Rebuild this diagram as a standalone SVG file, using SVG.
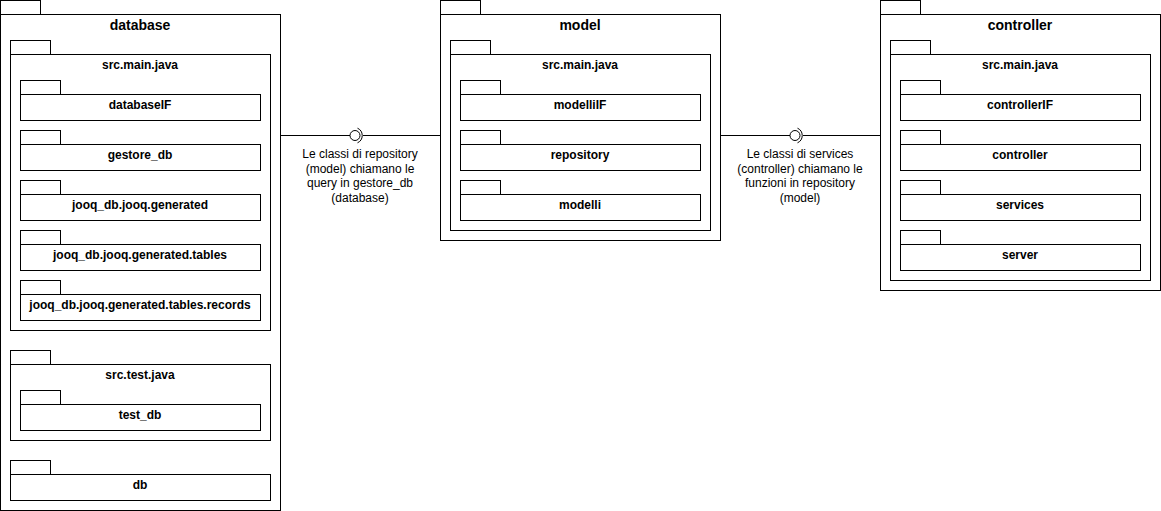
<svg xmlns="http://www.w3.org/2000/svg" width="1161" height="511" viewBox="0 0 1161 511">
<style>
.pk{fill:#fff;stroke:#000;stroke-width:1}
.t{font-family:"Liberation Sans",Arial,sans-serif;font-size:12px;font-weight:bold;text-anchor:middle;fill:#000}
.tt{font-family:"Liberation Sans",Arial,sans-serif;font-size:14px;font-weight:bold;text-anchor:middle;fill:#000}
.lb{font-family:"Liberation Sans",Arial,sans-serif;font-size:12px;text-anchor:middle;fill:#000}
.ln{fill:none;stroke:#000;stroke-width:1}
</style>
<rect width="1161" height="511" fill="#fff"/>

<g id="database">
<rect class="pk" x="0.5" y="0.5" width="40" height="14"/>
<rect class="pk" x="0.5" y="14.5" width="280" height="496"/>
<text class="tt" x="140" y="30">database</text>
<g id="db-src-main">
<rect class="pk" x="10.5" y="40.5" width="40" height="14"/>
<rect class="pk" x="10.5" y="54.5" width="260" height="276"/>
<text class="t" x="140" y="69">src.main.java</text>
<g id="databaseIF"><rect class="pk" x="20.5" y="80.5" width="40" height="14"/><rect class="pk" x="20.5" y="94.5" width="240" height="26"/><text class="t" x="140" y="109">databaseIF</text></g>
<g id="gestore_db"><rect class="pk" x="20.5" y="130.5" width="40" height="14"/><rect class="pk" x="20.5" y="144.5" width="240" height="26"/><text class="t" x="140" y="159">gestore_db</text></g>
<g id="jooq_gen"><rect class="pk" x="20.5" y="180.5" width="40" height="14"/><rect class="pk" x="20.5" y="194.5" width="240" height="26"/><text class="t" x="140" y="209">jooq_db.jooq.generated</text></g>
<g id="jooq_tables"><rect class="pk" x="20.5" y="230.5" width="40" height="14"/><rect class="pk" x="20.5" y="244.5" width="240" height="26"/><text class="t" x="140" y="259">jooq_db.jooq.generated.tables</text></g>
<g id="jooq_records"><rect class="pk" x="20.5" y="280.5" width="40" height="14"/><rect class="pk" x="20.5" y="294.5" width="240" height="26"/><text class="t" x="140" y="309">jooq_db.jooq.generated.tables.records</text></g>
</g>
<g id="db-src-test">
<rect class="pk" x="10.5" y="350.5" width="40" height="14"/>
<rect class="pk" x="10.5" y="364.5" width="260" height="76"/>
<text class="t" x="140" y="379">src.test.java</text>
<g id="test_db"><rect class="pk" x="20.5" y="390.5" width="40" height="14"/><rect class="pk" x="20.5" y="404.5" width="240" height="26"/><text class="t" x="140" y="419">test_db</text></g>
</g>
<g id="db"><rect class="pk" x="10.5" y="460.5" width="40" height="14"/><rect class="pk" x="10.5" y="474.5" width="260" height="26"/><text class="t" x="140" y="489">db</text></g>
</g>

<g id="model">
<rect class="pk" x="440.5" y="0.5" width="40" height="14"/>
<rect class="pk" x="440.5" y="14.5" width="280" height="226"/>
<text class="tt" x="580" y="30">model</text>
<g id="model-src-main">
<rect class="pk" x="450.5" y="40.5" width="40" height="14"/>
<rect class="pk" x="450.5" y="54.5" width="260" height="176"/>
<text class="t" x="580" y="69">src.main.java</text>
<g id="modelliIF"><rect class="pk" x="460.5" y="80.5" width="40" height="14"/><rect class="pk" x="460.5" y="94.5" width="240" height="26"/><text class="t" x="580" y="109">modelliIF</text></g>
<g id="repository"><rect class="pk" x="460.5" y="130.5" width="40" height="14"/><rect class="pk" x="460.5" y="144.5" width="240" height="26"/><text class="t" x="580" y="159">repository</text></g>
<g id="modelli"><rect class="pk" x="460.5" y="180.5" width="40" height="14"/><rect class="pk" x="460.5" y="194.5" width="240" height="26"/><text class="t" x="580" y="209">modelli</text></g>
</g>
</g>

<g id="controller">
<rect class="pk" x="880.5" y="0.5" width="40" height="14"/>
<rect class="pk" x="880.5" y="14.5" width="280" height="276"/>
<text class="tt" x="1020" y="30">controller</text>
<g id="ctrl-src-main">
<rect class="pk" x="890.5" y="40.5" width="40" height="14"/>
<rect class="pk" x="890.5" y="54.5" width="260" height="226"/>
<text class="t" x="1020" y="69">src.main.java</text>
<g id="controllerIF"><rect class="pk" x="900.5" y="80.5" width="40" height="14"/><rect class="pk" x="900.5" y="94.5" width="240" height="26"/><text class="t" x="1020" y="109">controllerIF</text></g>
<g id="controller-pkg"><rect class="pk" x="900.5" y="130.5" width="40" height="14"/><rect class="pk" x="900.5" y="144.5" width="240" height="26"/><text class="t" x="1020" y="159">controller</text></g>
<g id="services"><rect class="pk" x="900.5" y="180.5" width="40" height="14"/><rect class="pk" x="900.5" y="194.5" width="240" height="26"/><text class="t" x="1020" y="209">services</text></g>
<g id="server"><rect class="pk" x="900.5" y="230.5" width="40" height="14"/><rect class="pk" x="900.5" y="244.5" width="240" height="26"/><text class="t" x="1020" y="259">server</text></g>
</g>
</g>

<g id="connectors">
<g id="conn-db-model">
<line class="ln" x1="281" y1="135.5" x2="350" y2="135.5"/>
<circle class="ln" cx="355" cy="135.5" r="5"/>
<path class="ln" d="M357.5 128.2 A8 8 0 0 1 357.5 142.8"/>
<line class="ln" x1="363" y1="135.5" x2="440" y2="135.5"/>
<text class="lb" x="360" y="158">Le classi di repository</text>
<text class="lb" x="360" y="172.5">(model) chiamano le</text>
<text class="lb" x="360" y="187">query in gestore_db</text>
<text class="lb" x="360" y="201.5">(database)</text>
</g>
<g id="conn-model-ctrl">
<line class="ln" x1="721" y1="135.5" x2="790" y2="135.5"/>
<circle class="ln" cx="795" cy="135.5" r="5"/>
<path class="ln" d="M797.5 128.2 A8 8 0 0 1 797.5 142.8"/>
<line class="ln" x1="803" y1="135.5" x2="880" y2="135.5"/>
<text class="lb" x="800" y="158">Le classi di services</text>
<text class="lb" x="800" y="172.5">(controller) chiamano le</text>
<text class="lb" x="800" y="187">funzioni in repository</text>
<text class="lb" x="800" y="201.5">(model)</text>
</g>
</g>
</svg>
